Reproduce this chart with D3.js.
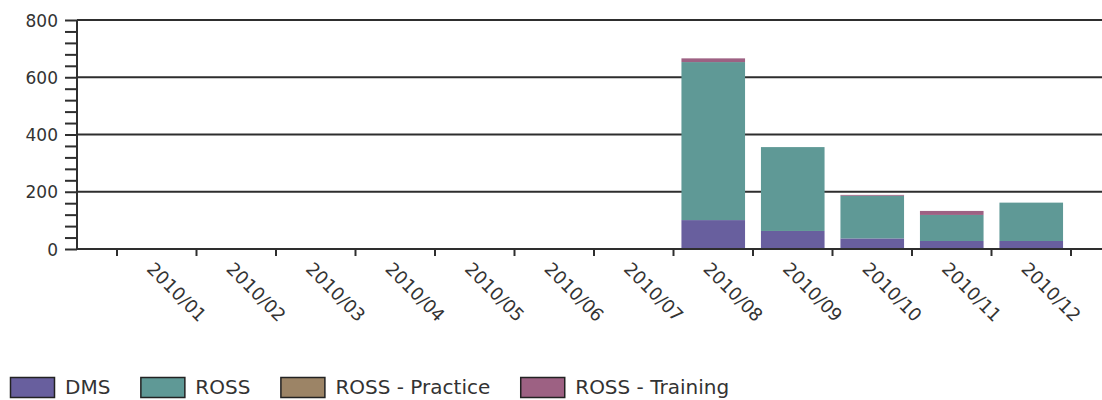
<!DOCTYPE html>
<html>
<head>
<meta charset="utf-8">
<script src="https://cdn.jsdelivr.net/npm/d3@7"></script>
<style>
  html, body { margin: 0; padding: 0; background: #fff; }
  svg { display: block; }
  text { font-family: "DejaVu Sans", Verdana, sans-serif; fill: #333; }
</style>
</head>
<body>
<svg id="chart" width="1102" height="400"></svg>
<script>
const months = ["2010/01","2010/02","2010/03","2010/04","2010/05","2010/06","2010/07","2010/08","2010/09","2010/10","2010/11","2010/12"];
const seriesNames = ["DMS","ROSS","ROSS - Practice","ROSS - Training"];
const dms      = [0,0,0,0,0,0,0,101,63,37,28,28];
const ross     = [0,0,0,0,0,0,0,552,293,149,91,134];
const practice = [0,0,0,0,0,0,0,0,0,0,0,0];
const training = [0,0,0,0,0,0,0,13,0,3,14,0];
const yTicks = [0,200,400,600,800];
const colors = ["#685f9e","#5f9996","#9c8466","#9d6183"];

const svg = d3.select("#chart");
const pLeft = 77, pRight = 1102, pTop = 20, pBottom = 249;

const rows = months.map((m, i) => ({month: m, "DMS": dms[i], "ROSS": ross[i], "ROSS - Practice": practice[i], "ROSS - Training": training[i]}));
const stack = d3.stack().keys(seriesNames)(rows);

const y = d3.scaleLinear().domain([0, 800]).range([pBottom, pTop]);
const x = d3.scaleBand().domain(months).range([117, 1071]).paddingInner(0.2).paddingOuter(0.1);
const xb = d3.scaleBand().domain(months).range([117, 1071]).padding(0);

// gridlines
svg.append("g").selectAll("line").data(yTicks.filter(d => d > 0)).join("line")
  .attr("x1", pLeft).attr("x2", pRight)
  .attr("y1", d => y(d)).attr("y2", d => y(d))
  .attr("stroke", "#2e2e2e").attr("stroke-width", 2);

// bars
svg.append("g").selectAll("g").data(stack).join("g")
  .attr("fill", (d, i) => colors[i])
  .selectAll("rect").data(d => d).join("rect")
  .attr("x", d => x(d.data.month))
  .attr("width", x.bandwidth())
  .attr("y", d => y(d[1]))
  .attr("height", d => Math.max(0, y(d[0]) - y(d[1])));

// y axis
const yAxis = d3.axisLeft(y).tickValues(d3.range(0, 801, 40)).tickSize(12).tickFormat(d => yTicks.includes(d) ? d : "");
const gy = svg.append("g").attr("transform", `translate(${pLeft},0)`).call(yAxis);
gy.select(".domain").attr("stroke", "#2e2e2e").attr("stroke-width", 2).attr("d", `M0,${pTop}V${pBottom}`);
gy.selectAll(".tick line").attr("stroke", "#2e2e2e").attr("stroke-width", 2);
gy.selectAll(".tick text").attr("x", -19).attr("dy", "0.36em")
  .style("font-family", '"DejaVu Sans", Verdana, sans-serif').style("font-size", "17px").attr("fill", "#333");

// x axis baseline
svg.append("line").attr("x1", pLeft).attr("x2", pRight).attr("y1", pBottom).attr("y2", pBottom)
  .attr("stroke", "#2e2e2e").attr("stroke-width", 2);

// x ticks at band boundaries
const boundaries = months.map(m => xb(m)).concat([xb(months[months.length - 1]) + xb.bandwidth()]);
svg.append("g").selectAll("line").data(boundaries).join("line")
  .attr("x1", d => d).attr("x2", d => d).attr("y1", pBottom).attr("y2", pBottom + 7)
  .attr("stroke", "#2e2e2e").attr("stroke-width", 2);

// x labels
svg.append("g").selectAll("text").data(months).join("text")
  .attr("transform", d => `translate(${x(d) + x.bandwidth() / 2 - 11},${pBottom + 21}) rotate(45)`)
  .attr("text-anchor", "start")
  .style("font-size", "18px")
  .text(d => d);

// legend
const lg = svg.append("g");
let lx = 10;
seriesNames.forEach((name, i) => {
  lg.append("rect").attr("x", lx + 0.5).attr("y", 377.5).attr("width", 44).attr("height", 20)
    .attr("fill", colors[i]).attr("stroke", "#222").attr("stroke-width", 1.5);
  const t = lg.append("text").attr("x", lx + 55).attr("y", 394).style("font-size", "20px").text(name);
  const w = t.node().getComputedTextLength();
  lx = lx + 55 + w + 30;
});
</script>
</body>
</html>
